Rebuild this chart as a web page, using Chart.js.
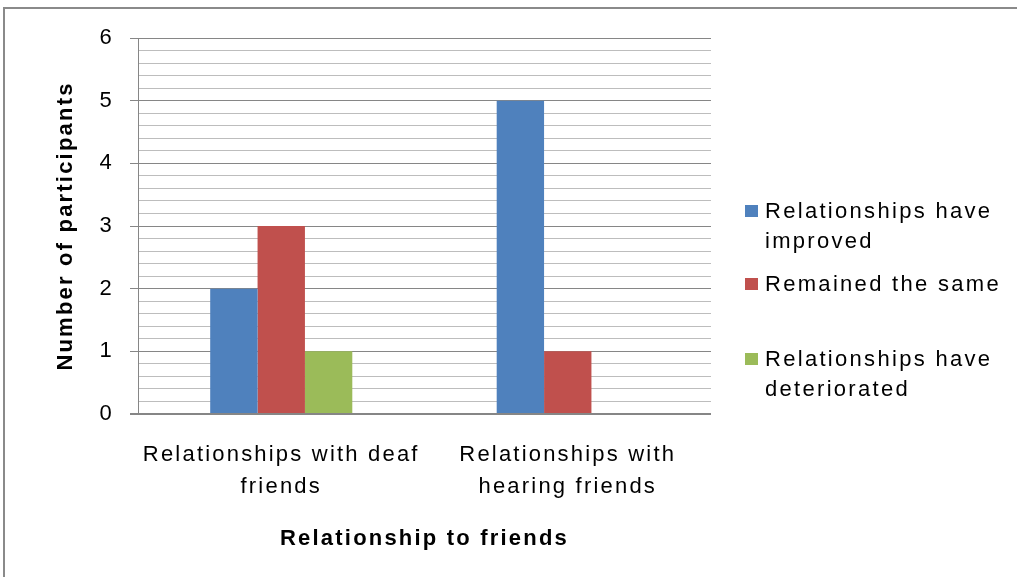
<!DOCTYPE html>
<html>
<head>
<meta charset="utf-8">
<script src="https://cdn.jsdelivr.net/npm/chart.js@4.4.0/dist/chart.umd.min.js"></script>
<style>
  html, body { margin: 0; padding: 0; background: #fff; }
  #wrap { position: relative; width: 1017px; height: 577px; overflow: hidden; }
  #frame { position: absolute; left: 3px; top: 7px; width: 1100px; height: 700px;
           border-left: 2px solid #8a8a8a; border-top: 2px solid #8a8a8a; }
  #chart { position: absolute; left: 0; top: 0; }
  #legend { position: absolute; left: 745px; top: 196px; font-family: "Liberation Sans", Arial, sans-serif;
            font-size: 22px; line-height: 30px; color: #000; letter-spacing: 2.3px; white-space: nowrap; }
  .item { position: relative; padding-left: 20px; }
  .swatch { position: absolute; left: 0; top: 9px; width: 13px; height: 12px; }
</style>
</head>
<body>
<div id="wrap">
  <div id="frame"></div>
  <canvas id="chart" width="1017" height="577"></canvas>
  <div id="legend"></div>
</div>
<script>
const categories = [['Relationships with deaf', 'friends'], ['Relationships with', 'hearing friends']];
const seriesNames = [['Relationships have', 'improved'], ['Remained the same'], ['Relationships have', 'deteriorated']];
const improved = [2, 5];
const remained = [3, 1];
const deteriorated = [1, 0];
const colors = ['#4F81BD', '#C0504D', '#9BBB59'];
const legendGaps = [0, 13, 45];

const isMajor = v => Math.abs(v - Math.round(v)) < 1e-6;
const font = "'Liberation Sans', Arial, sans-serif";

// wider letter spacing like the Excel rendering
const spacing = {
    id: 'spacing',
    beforeUpdate: c => { c.ctx.letterSpacing = '2.2px'; },
    beforeDraw: c => { c.ctx.letterSpacing = '2.2px'; }
};

const ctx = document.getElementById('chart').getContext('2d');
const chart = new Chart(ctx, {
    type: 'bar',
    data: {
        labels: categories,
        datasets: [improved, remained, deteriorated].map((d, i) => ({
            label: seriesNames[i].join(' '),
            data: d,
            backgroundColor: colors[i],
            borderWidth: 0,
            categoryPercentage: 0.496,
            barPercentage: 1
        }))
    },
    options: {
        responsive: false,
        animation: false,
        layout: { padding: { left: 0, top: 38, right: 306, bottom: 0 } },
        plugins: { legend: { display: false }, tooltip: { enabled: false } },
        scales: {
            x: {
                grid: { display: false, drawTicks: false },
                border: { display: false },
                ticks: { color: '#000', font: { family: font, size: 22, lineHeight: 1.45 }, padding: 25, maxRotation: 0 },
                title: { display: true, text: 'Relationship to friends', color: '#000',
                         font: { family: font, size: 22, weight: 'bold' }, padding: { top: 0, bottom: 25 } },
                afterFit: s => { s.height = 577 - 414; }
            },
            y: {
                min: 0,
                max: 6,
                ticks: {
                    stepSize: 0.2,
                    color: '#000',
                    font: { family: font, size: 22 },
                    padding: 16,
                    autoSkip: false,
                    callback: v => isMajor(v) ? String(Math.round(v)) : ''
                },
                grid: {
                    color: c => isMajor(c.tick.value) ? '#868686' : '#bdbdbd',
                    tickColor: c => isMajor(c.tick.value) ? '#868686' : 'rgba(0,0,0,0)',
                    lineWidth: c => c.tick.value === 0 ? 2 : 1,
                    tickLength: 8
                },
                border: { color: '#868686', width: 1 },
                title: { display: true, text: 'Number of participants', color: '#000',
                         font: { family: font, size: 22, weight: 'bold' }, padding: { top: 53, bottom: 0 } },
                afterFit: s => { s.width = 138; }
            }
        }
    },
    plugins: [spacing]
});

// legend built from the datasets
const legend = document.getElementById('legend');
seriesNames.forEach((name, i) => {
    const item = document.createElement('div');
    item.className = 'item';
    item.style.marginTop = legendGaps[i] + 'px';
    item.innerHTML = '<span class="swatch" style="background:' + colors[i] + '"></span>' + name.join('<br>');
    legend.appendChild(item);
});
</script>
</body>
</html>
